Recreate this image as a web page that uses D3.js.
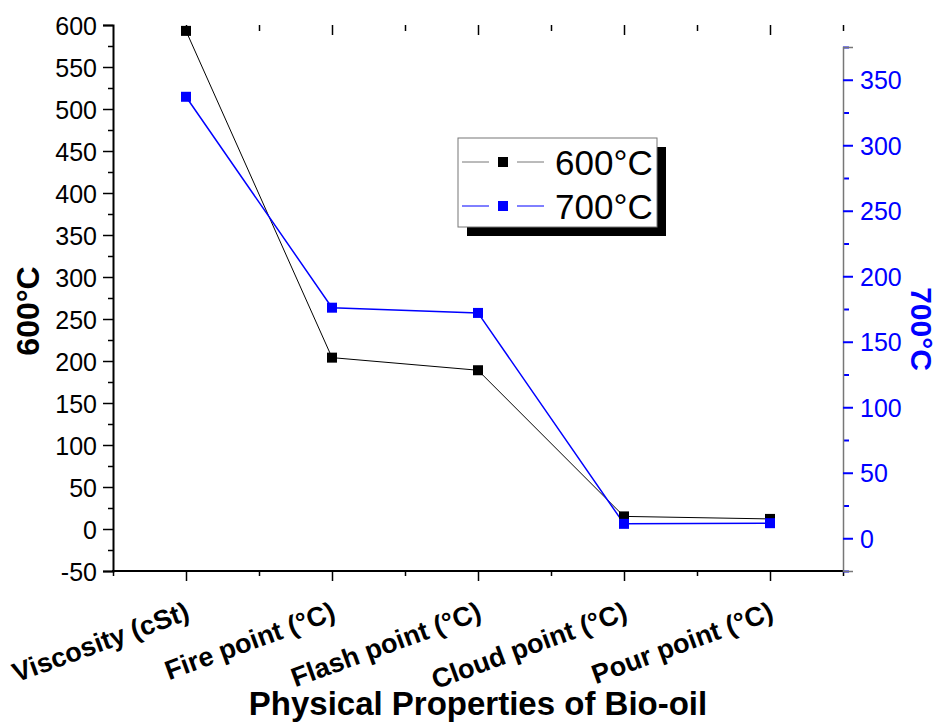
<!DOCTYPE html>
<html>
<head>
<meta charset="utf-8">
<script src="https://cdn.jsdelivr.net/npm/d3@7"></script>
<style>
    body { margin: 0; background: #fff; }
    svg { display: block; font-family: "Liberation Sans", Arial, sans-serif; }
</style>
</head>
<body>
<svg id="chart" width="940" height="722"></svg>
<script>
const categories = ["Viscosity (cSt)", "Fire point (°C)", "Flash point (°C)", "Cloud point (°C)", "Pour point (°C)"];
const values600 = [593, 204, 189, 15, 12];
const values700 = [337, 176, 172, 11, 11.5];
const leftTicks = [-50, 0, 50, 100, 150, 200, 250, 300, 350, 400, 450, 500, 550, 600];
const rightTicks = [0, 50, 100, 150, 200, 250, 300, 350];
const seriesNames = ["600°C", "700°C"];

const svg = d3.select("#chart");

const x = d3.scaleLinear().domain([0.5, 5.5]).range([113, 843]);
const yLeft = d3.scaleLinear().domain([-50, 600]).range([571, 25]);
const yRight = d3.scaleLinear().domain([-25, 375]).range([571, 47]);

const idx = categories.map((c, i) => i + 1);
const half = d3.range(0.5, 5.6, 1);

// left axis
const gLeft = svg.append("g").attr("transform", "translate(113,0)");
gLeft.call(d3.axisLeft(yLeft).tickValues(d3.range(-25, 600, 50)).tickSize(5).tickFormat(""))
    .call(g => g.select(".domain").remove());
gLeft.append("g")
    .call(d3.axisLeft(yLeft).tickValues(leftTicks).tickSize(10).tickPadding(6).tickFormat(d => String(d)))
    .call(g => g.select(".domain").attr("stroke-width", 2))
    .call(g => g.selectAll("text").attr("font-size", 25).attr("fill", "#000").attr("dy", "0.36em"));
gLeft.selectAll("line").attr("stroke-width", 1.5);

// bottom axis
const gBottom = svg.append("g").attr("transform", "translate(0,571)");
gBottom.call(d3.axisBottom(x).tickValues(half).tickSize(5).tickFormat(""))
    .call(g => g.select(".domain").attr("stroke-width", 2).attr("d", "M112,0H843"));
gBottom.append("g")
    .call(d3.axisBottom(x).tickValues(idx).tickSize(10).tickFormat(""))
    .call(g => g.select(".domain").remove());
gBottom.selectAll("line").attr("stroke-width", 1.5);

gBottom.selectAll(".xlabel")
    .data(categories)
    .join("text")
    .attr("class", "xlabel")
    .attr("transform", (d, i) => `translate(${x(i + 1) + 5},48) rotate(-20)`)
    .attr("text-anchor", "end")
    .attr("fill", "#000")
    .attr("font-size", 27)
    .attr("font-weight", "bold")
    .text(d => d);

// top ticks (no axis line)
const gTop = svg.append("g").attr("transform", "translate(0,25)");
gTop.call(d3.axisBottom(x).tickValues(half.slice(1)).tickSize(6).tickFormat(""))
    .call(g => g.select(".domain").remove());
gTop.append("g")
    .call(d3.axisBottom(x).tickValues(idx).tickSize(10).tickFormat(""))
    .call(g => g.select(".domain").remove());
gTop.selectAll("line").attr("stroke-width", 1.5);

// right axis
const gRight = svg.append("g").attr("transform", "translate(843,0)");
gRight.call(d3.axisRight(yRight).tickValues(d3.range(-25, 376, 50)).tickSize(6).tickFormat(""))
    .call(g => g.select(".domain").remove());
gRight.append("g")
    .call(d3.axisRight(yRight).tickValues(rightTicks).tickSize(10).tickPadding(7))
    .call(g => g.select(".domain").attr("stroke", "#777").attr("stroke-width", 1.5))
    .call(g => g.selectAll("text").attr("font-size", 25).attr("fill", "#0000ff").attr("dy", "0.36em"));
gRight.selectAll(".tick line").attr("stroke", "#0000ff").attr("stroke-width", 2);

// axis titles
svg.append("text")
    .attr("transform", "translate(39,311) rotate(-90)")
    .attr("text-anchor", "middle")
    .attr("font-size", 32)
    .attr("font-weight", "bold")
    .text("600°C");

svg.append("text")
    .attr("transform", "translate(911,329) rotate(90)")
    .attr("text-anchor", "middle")
    .attr("font-size", 30)
    .attr("font-weight", "bold")
    .attr("fill", "#0000ff")
    .text("700°C");

svg.append("text")
    .attr("x", 478)
    .attr("y", 715)
    .attr("text-anchor", "middle")
    .attr("font-size", 33)
    .attr("font-weight", "bold")
    .text("Physical Properties of Bio-oil");

// series
const line600 = d3.line().x((d, i) => x(i + 1)).y(d => yLeft(d));
const line700 = d3.line().x((d, i) => x(i + 1)).y(d => yRight(d));

svg.append("path")
    .attr("d", line600(values600))
    .attr("fill", "none")
    .attr("stroke", "#000")
    .attr("stroke-width", 1);

svg.append("path")
    .attr("d", line700(values700))
    .attr("fill", "none")
    .attr("stroke", "#0000ff")
    .attr("stroke-width", 1.5);

svg.selectAll(".m600")
    .data(values600)
    .join("rect")
    .attr("class", "m600")
    .attr("x", (d, i) => x(i + 1) - 5)
    .attr("y", d => yLeft(d) - 5)
    .attr("width", 10)
    .attr("height", 10)
    .attr("fill", "#000");

svg.selectAll(".m700")
    .data(values700)
    .join("rect")
    .attr("class", "m700")
    .attr("x", (d, i) => x(i + 1) - 5)
    .attr("y", d => yRight(d) - 5)
    .attr("width", 10)
    .attr("height", 10)
    .attr("fill", "#0000ff");

// legend
const legend = svg.append("g").attr("transform", "translate(458,138)");
legend.append("rect")
    .attr("x", 9).attr("y", 9)
    .attr("width", 199).attr("height", 89)
    .attr("fill", "#000");
legend.append("rect")
    .attr("width", 199).attr("height", 89)
    .attr("fill", "#fff")
    .attr("stroke", "#777")
    .attr("stroke-width", 1);

const colors = ["#000", "#0000ff"];
const rows = legend.selectAll(".row")
    .data(seriesNames)
    .join("g")
    .attr("class", "row")
    .attr("transform", (d, i) => `translate(0,${24 + i * 44})`);
rows.append("line").attr("x1", 4).attr("x2", 31).attr("stroke", (d, i) => i ? colors[1] : "#777");
rows.append("line").attr("x1", 59).attr("x2", 86).attr("stroke", (d, i) => i ? colors[1] : "#777");
rows.append("rect")
    .attr("x", 40).attr("y", -5)
    .attr("width", 10).attr("height", 10)
    .attr("fill", (d, i) => colors[i]);
rows.append("text")
    .attr("x", 97)
    .attr("dy", "0.36em")
    .attr("font-size", 35)
    .text(d => d);
</script>
</body>
</html>
